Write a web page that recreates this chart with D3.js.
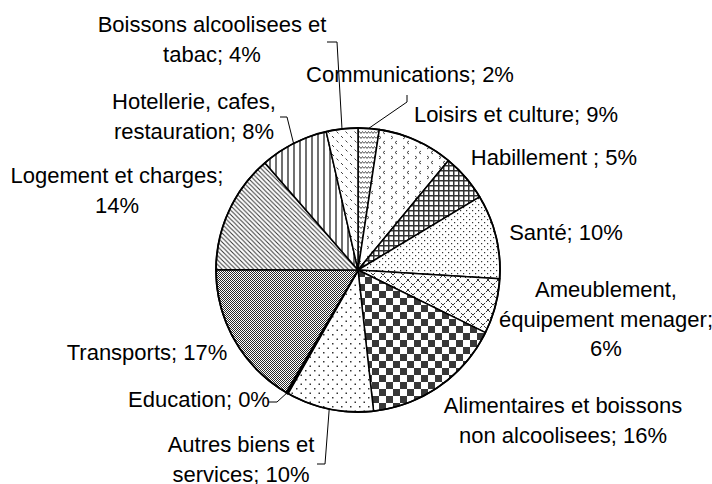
<!DOCTYPE html>
<html lang="fr">
<head>
    <meta charset="UTF-8">
    <title>Structure des dépenses</title>
    <script src="https://cdn.jsdelivr.net/npm/d3@7"></script>
    <style>
        body { margin: 0; background: #fff; }
        svg { display: block; }
    </style>
</head>
<body>
<script type="text/javascript">
    // categories, clockwise from 12 o'clock
    const categories = ["Communications", "Loisirs et culture", "Habillement ", "Santé",
        "Ameublement, équipement menager", "Alimentaires et boissons non alcoolisees",
        "Autres biens et services", "Education", "Transports", "Logement et charges",
        "Hotellerie, cafes, restauration", "Boissons alcoolisees et tabac"];
    // shares in %
    const shares = [2.4, 8.6, 5.4, 9.6, 6.3, 16.0, 10.0, 0.2, 16.6, 13.6, 7.8, 3.6];
    // shown percentages
    const shown = [2, 9, 5, 10, 6, 16, 10, 0, 17, 14, 8, 4];
    // fill pattern id for each slice
    const fills = ["wave", "chev", "grid", "dots", "diag", "check", "sparse", "none", "fine", "hatch", "vert", "dash"];

    // label layout: center x, first baseline y, words per line, leader start points
    const labelLayout = [
        {x: 410, y: 82, lines: [2], lead: [[407, 95], [407, 102]]},
        {x: 516, y: 122, lines: [4]},
        {x: 554, y: 165, lines: [3]},
        {x: 566, y: 240, lines: [2]},
        {x: 606, y: 297, lines: [1, 2, 1]},
        {x: 563, y: 413, lines: [3, 3]},
        {x: 241, y: 452, lines: [3, 2], lead: [[317, 464], [325, 464]]},
        {x: 199, y: 407, lines: [2], lead: [[268, 402], [277, 402]]},
        {x: 147, y: 360, lines: [2]},
        {x: 117, y: 183, lines: [3, 1]},
        {x: 194, y: 109, lines: [2, 2], lead: [[280, 117], [287, 117]]},
        {x: 212, y: 32, lines: [3, 2], lead: [[327, 42], [337, 42]]}
    ];

    const width = 712, height = 484;
    const cx = 358, cy = 270, radius = 142;
    const lineHeight = 29.5;

    const svg = d3.select("body").append("svg")
        .attr("width", width)
        .attr("height", height)
        .style("font-family", "'Liberation Sans', Arial, sans-serif")
        .style("font-size", "22px");

    svg.append("rect").attr("width", width).attr("height", height).attr("fill", "#fff");

    // patterns
    const defs = svg.append("defs");
    function pattern(id, w, h) {
        const p = defs.append("pattern").attr("id", id)
            .attr("patternUnits", "userSpaceOnUse")
            .attr("width", w).attr("height", h);
        p.append("rect").attr("width", w).attr("height", h).attr("fill", "#fff");
        return p;
    }
    let p;
    p = pattern("wave", 6, 5);
    p.append("path").attr("d", "M0,3.5 L1.5,1.5 L3,3.5 L4.5,1.5 L6,3.5").attr("fill", "none").attr("stroke", "#555").attr("stroke-width", 1);
    p = pattern("chev", 12, 10);
    p.append("path").attr("d", "M3,1 L1,2.5 L3,4 M9,6 L11,7.5 L9,9").attr("fill", "none").attr("stroke", "#444").attr("stroke-width", 1);
    p = pattern("grid", 5, 5);
    p.append("path").attr("d", "M0,0.75 H5 M0.75,0 V5").attr("stroke", "#333").attr("stroke-width", 1.5);
    p = pattern("dots", 6, 6);
    p.append("rect").attr("x", 0).attr("y", 0).attr("width", 1.2).attr("height", 1.2).attr("fill", "#333");
    p.append("rect").attr("x", 3).attr("y", 3).attr("width", 1.2).attr("height", 1.2).attr("fill", "#333");
    p = pattern("diag", 10, 10);
    p.append("path").attr("d", "M0,0 L10,10 M10,0 L0,10").attr("stroke", "#333").attr("stroke-width", 1).attr("stroke-dasharray", "3,1.2");
    p = pattern("check", 14, 14);
    p.append("rect").attr("width", 7).attr("height", 7).attr("fill", "#383838");
    p.append("rect").attr("x", 7).attr("y", 7).attr("width", 7).attr("height", 7).attr("fill", "#383838");
    p = pattern("sparse", 9, 9);
    p.append("rect").attr("x", 1).attr("y", 1).attr("width", 1.5).attr("height", 1.5).attr("fill", "#333");
    p.append("rect").attr("x", 5.5).attr("y", 5.5).attr("width", 1.5).attr("height", 1.5).attr("fill", "#333");
    p = pattern("fine", 2, 2);
    p.append("rect").attr("width", 1).attr("height", 1).attr("fill", "#2a2a2a");
    p.append("rect").attr("x", 1).attr("y", 1).attr("width", 1).attr("height", 1).attr("fill", "#2a2a2a");
    p = pattern("hatch", 4.5, 4.5);
    p.append("path").attr("d", "M-1,-1 L5.5,5.5 M-1,3.5 L1,5.5 M3.5,-1 L5.5,1").attr("stroke", "#333").attr("stroke-width", 1);
    p = pattern("vert", 6, 6);
    p.append("path").attr("d", "M2,0 V6").attr("stroke", "#333").attr("stroke-width", 1.4);
    p = pattern("dash", 9, 9);
    p.append("path").attr("d", "M1,1 L3,3 M5.5,5.5 L7.5,7.5").attr("stroke", "#444").attr("stroke-width", 1);
    p = pattern("none", 4, 4);

    const pie = d3.pie().sort(null).value(d => d).startAngle(0).endAngle(2 * Math.PI);
    const arcs = pie(shares);
    const arc = d3.arc().innerRadius(0).outerRadius(radius);

    const g = svg.append("g").attr("transform", `translate(${cx},${cy})`);
    g.selectAll("path")
        .data(arcs)
        .join("path")
        .attr("d", arc)
        .attr("fill", (d, i) => `url(#${fills[i]})`)
        .attr("stroke", "#000")
        .attr("stroke-width", (d, i) => fills[i] === "none" ? 2.5 : 1.5)
        .attr("stroke-linejoin", "round");

    g.append("circle").attr("r", radius).attr("fill", "none").attr("stroke", "#000").attr("stroke-width", 1.8);

    // leader lines
    const edgePoint = d => {
        const a = (d.startAngle + d.endAngle) / 2;
        return [cx + radius * Math.sin(a), cy - radius * Math.cos(a)];
    };
    svg.append("g")
        .selectAll("path")
        .data(arcs.map((d, i) => ({d, l: labelLayout[i]})).filter(o => o.l.lead))
        .join("path")
        .attr("d", o => d3.line()([...o.l.lead, edgePoint(o.d)]))
        .attr("fill", "none")
        .attr("stroke", "#000")
        .attr("stroke-width", 1);

    // labels
    const labels = svg.append("g").attr("text-anchor", "middle").attr("fill", "#000");
    categories.forEach((name, i) => {
        const words = `${name}; ${shown[i]}%`.split(" ");
        const lay = labelLayout[i];
        const t = labels.append("text");
        let k = 0;
        lay.lines.forEach((n, j) => {
            t.append("tspan")
                .attr("x", lay.x)
                .attr("y", lay.y + j * lineHeight)
                .text(words.slice(k, k + n).join(" "));
            k += n;
        });
    });
</script>
</body>
</html>
